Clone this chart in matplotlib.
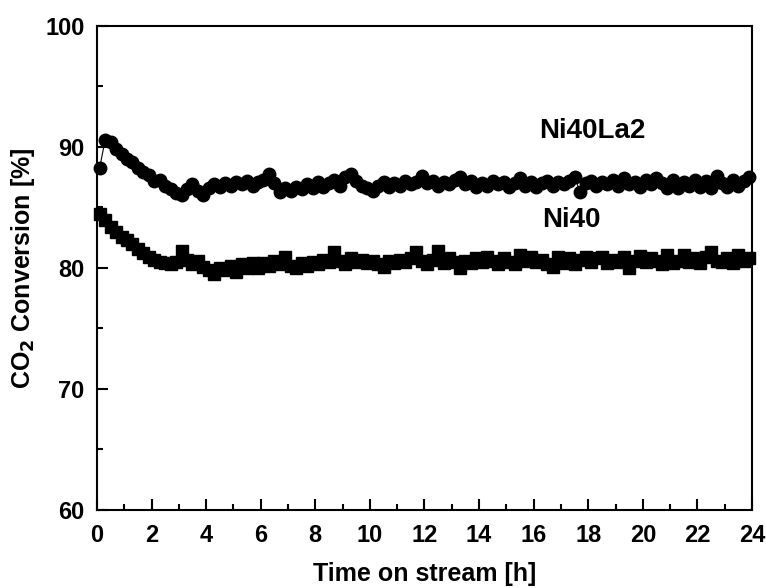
import numpy as np
import matplotlib
matplotlib.use("Agg")
import matplotlib.pyplot as plt
from matplotlib.ticker import MultipleLocator

plt.rcParams['font.family'] = ['Liberation Sans', 'DejaVu Sans']
plt.rcParams['font.weight'] = 'bold'

# sampling times [h]
time_h = np.arange(0.1, 24.0, 0.2)

# CO2 conversion [%]
ni40la2 = [
    88.3, 90.6, 90.4, 89.8, 89.4, 89.0, 88.8, 88.3, 87.9, 87.7,
    87.2, 87.3, 86.8, 86.5, 86.2, 86.0, 86.5, 86.9, 86.4, 86.0,
    86.6, 86.9, 86.7, 87.0, 86.8, 87.1, 86.9, 87.2, 86.8, 87.1,
    87.3, 87.8, 87.0, 86.3, 86.6, 86.4, 86.7, 86.5, 86.9, 86.6,
    87.1, 86.7, 87.0, 87.3, 86.8, 87.5, 87.8, 87.2, 86.8, 86.6,
    86.4, 86.8, 87.1, 86.7, 87.0, 86.8, 87.2, 86.9, 87.1, 87.6,
    87.0, 87.2, 86.8, 87.1, 86.9, 87.3, 87.5, 86.9, 87.2, 86.7,
    87.0, 86.8, 87.2, 86.9, 87.1, 86.7, 87.0, 87.4, 86.8, 87.1,
    86.7, 87.0, 87.2, 86.8, 87.1, 86.9, 87.2, 87.5, 86.3, 87.0,
    87.2, 86.8, 87.1, 86.9, 87.3, 86.8, 87.4, 86.9, 87.1, 86.7,
    87.3, 86.9, 87.4, 87.0, 86.6, 87.3, 86.6, 87.1, 86.8, 87.3,
    86.7, 87.2, 86.6, 87.6, 87.0, 86.7, 87.3, 86.8, 87.2, 87.5,
]

ni40 = [
    84.5, 84.0, 83.4, 83.0, 82.6, 82.3, 82.0, 81.6, 81.2, 80.9,
    80.7, 80.5, 80.4, 80.3, 80.5, 81.4, 80.7, 80.3, 80.6, 80.1,
    79.8, 79.5, 80.0, 79.8, 80.2, 79.7, 80.3, 80.0, 80.4, 80.0,
    80.4, 80.2, 80.6, 80.3, 80.9, 80.2, 80.0, 80.4, 80.2, 80.5,
    80.3, 80.7, 80.5, 81.3, 80.6, 80.3, 80.8, 80.5, 80.7, 80.4,
    80.6, 80.3, 80.1, 80.6, 80.4, 80.7, 80.5, 80.8, 81.3, 80.6,
    80.3, 80.7, 81.4, 80.4, 80.8, 80.5, 80.0, 80.6, 80.4, 80.8,
    80.5, 80.9, 80.6, 80.3, 80.8, 80.5, 80.3, 81.1, 80.6, 80.9,
    80.5, 80.7, 80.3, 80.1, 80.9, 80.4, 80.8, 80.3, 80.7, 80.9,
    80.5, 80.8, 80.9, 80.4, 80.7, 80.5, 80.9, 80.0, 80.6, 81.0,
    80.5, 80.8, 80.6, 80.3, 81.1, 80.4, 80.6, 81.1, 80.5, 80.8,
    80.4, 80.9, 81.3, 80.6, 80.5, 80.8, 80.4, 81.1, 80.6, 80.8,
]

fig = plt.figure(figsize=(7.66, 5.88), dpi=100)
ax = fig.add_axes([0.1266, 0.1327, 0.8551, 0.8231])

ax.plot(time_h, ni40la2, color='black', lw=0.8, marker='o', ms=9,
        mec='black', mfc='black', clip_on=False, zorder=3)
ax.plot(time_h, ni40, color='black', lw=0.8, marker='s', ms=8,
        mec='black', mfc='black', clip_on=False, zorder=3)

ax.text(16.2, 91.3, 'Ni40La2', fontsize=20, fontweight='bold', va='center', ha='left')
ax.text(16.3, 84.0, 'Ni40', fontsize=20, fontweight='bold', va='center', ha='left')

ax.set_xlim(0, 24)
ax.set_ylim(60, 100)
ax.xaxis.set_major_locator(MultipleLocator(2))
ax.xaxis.set_minor_locator(MultipleLocator(1))
ax.yaxis.set_major_locator(MultipleLocator(10))
ax.yaxis.set_minor_locator(MultipleLocator(5))

ax.tick_params(which='both', direction='in', width=1.5, labelsize=17)
ax.tick_params(axis='x', which='major', pad=10)
ax.tick_params(axis='y', which='major', pad=9)
ax.tick_params(which='major', length=8)
ax.tick_params(which='minor', length=4)
for lab in ax.get_xticklabels() + ax.get_yticklabels():
    lab.set_fontweight('bold')
for sp in ax.spines.values():
    sp.set_linewidth(1.5)

ax.set_xlabel('Time on stream [h]', fontsize=18, fontweight='bold', labelpad=11)
ax.set_ylabel('CO$_2$ Conversion [%]', fontsize=18, fontweight='bold', labelpad=6)

fig.savefig('out.png', dpi=100)
